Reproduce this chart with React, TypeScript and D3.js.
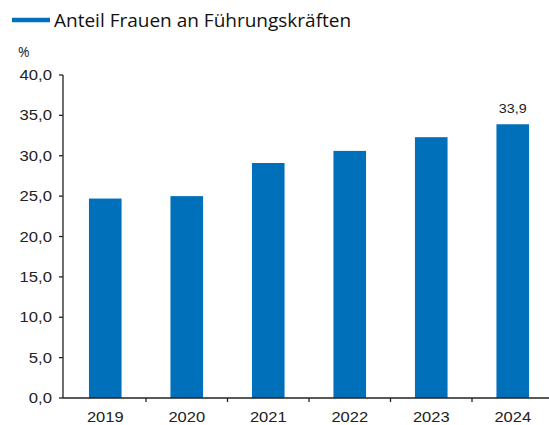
import React from "react";
import * as d3 from "d3";

const categories = ["2019", "2020", "2021", "2022", "2023", "2024"];
const values = [24.7, 25.0, 29.1, 30.6, 32.3, 33.9];
const yTicks = [0, 5, 10, 15, 20, 25, 30, 35, 40];
const legendLabel = "Anteil Frauen an Führungskräften";
const unitLabel = "%";
const labeledIndex = 5;

const W = 549;
const H = 425;
const BLUE = "#0070ba";
const TEXT = "#222";

function SText({ x, y, anchor, size, sx, children }: { x: number; y: number; anchor: string; size: number; sx: number; children: React.ReactNode }) {
  return (
    <text transform={`translate(${x},${y}) scale(${sx},1)`} textAnchor={anchor} fontFamily="Liberation Sans" fontSize={size} fill={TEXT}>
      {children}
    </text>
  );
}

export default function App() {
  const left = 63;
  const top = 75;
  const bottom = 398;
  const x0 = 64.5;
  const x = d3.scaleBand<string>().domain(categories).range([x0, x0 + 81.5 * 6]).paddingInner(0.6).paddingOuter(0.3);
  const y = d3.scaleLinear().domain([0, 40]).range([bottom, top]);
  const fmt = (v: number) => v.toFixed(1).replace(".", ",");
  const step = x.step();
  return (
    <div style={{ position: "absolute", left: 0, top: 0, width: W, height: H, overflow: "hidden" }}>
      <svg width={W} height={H} style={{ display: "block" }}>
        <rect width={W} height={H} fill="#fff" />
        <line x1={12} x2={50} y1={20} y2={20} stroke={BLUE} strokeWidth={4.5} />
        <text x={54} y={27} fontFamily="Open Sans" fontSize={19} fill="#111">{legendLabel}</text>
        <text x={18} y={57} fontFamily="Open Sans" fontSize={14} fill={TEXT}>{unitLabel}</text>
        {values.map((v, i) => (
          <rect key={i} x={x(categories[i])} y={y(v)} width={x.bandwidth()} height={bottom - y(v)} fill={BLUE} />
        ))}
        <line x1={left} x2={left} y1={top} y2={bottom} stroke="#222" strokeWidth={1.3} />
        {yTicks.map((t) => (
          <g key={t}>
            <line x1={left - 4} x2={left} y1={y(t)} y2={y(t)} stroke="#222" strokeWidth={1.3} />
            <SText x={52} y={y(t) + 5} anchor="end" size={14.5} sx={1.15}>{fmt(t)}</SText>
          </g>
        ))}
        <line x1={left} x2={W} y1={bottom} y2={bottom} stroke="#222" strokeWidth={1.3} />
        {categories.map((c, i) => (
          <g key={c}>
            {i > 0 && <line x1={x0 + step * i} x2={x0 + step * i} y1={bottom} y2={bottom + 4} stroke="#222" strokeWidth={1.3} />}
            <SText x={(x(c) ?? 0) + x.bandwidth() / 2} y={422} anchor="middle" size={15} sx={1.1}>{c}</SText>
          </g>
        ))}
        <SText x={(x(categories[labeledIndex]) ?? 0) + x.bandwidth() / 2} y={113} anchor="middle" size={13} sx={1.1}>{fmt(values[labeledIndex])}</SText>
      </svg>
    </div>
  );
}
